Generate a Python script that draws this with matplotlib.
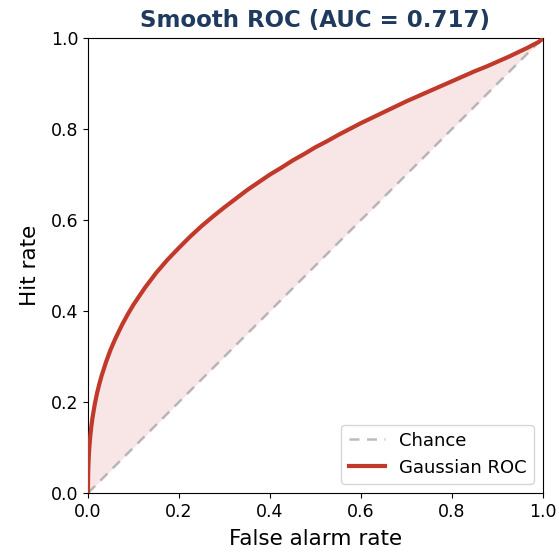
import matplotlib
matplotlib.use("Agg")
import matplotlib.pyplot as plt
import numpy as np

# Values
false_alarm = [0.0, 0.00001, 0.0001, 0.0005, 0.001, 0.002, 0.003, 0.005, 0.0075, 0.01, 0.015,
               0.02, 0.025, 0.03, 0.04, 0.05, 0.06, 0.075, 0.0875, 0.1, 0.125, 0.15, 0.175,
               0.2, 0.225, 0.25, 0.275, 0.3, 0.325, 0.35, 0.375, 0.4, 0.425, 0.45, 0.475,
               0.5, 0.525, 0.55, 0.575, 0.6, 0.625, 0.65, 0.675, 0.7, 0.725, 0.75, 0.775,
               0.8, 0.825, 0.85, 0.875, 0.9, 0.925, 0.95, 0.965, 0.98, 0.99, 0.995, 0.999, 1.0]
hit_rate = [0.0, 0.009, 0.024, 0.048, 0.064, 0.086, 0.101, 0.125, 0.148, 0.166, 0.196,
            0.220, 0.240, 0.258, 0.289, 0.316, 0.339, 0.370, 0.393, 0.414, 0.451, 0.484, 0.513,
            0.539, 0.564, 0.587, 0.608, 0.628, 0.647, 0.666, 0.683, 0.700, 0.715, 0.731, 0.745,
            0.760, 0.773, 0.787, 0.800, 0.813, 0.825, 0.837, 0.849, 0.861, 0.872, 0.883, 0.894,
            0.905, 0.916, 0.927, 0.937, 0.948, 0.959, 0.971, 0.978, 0.986, 0.991, 0.995, 0.998, 1.0]
chance = [0.0, 1.0]
auc_label = "0.717"

fig = plt.figure(figsize=(5.59, 5.52), dpi=100)
ax = fig.add_axes([88/559, 1-493/552, 455/559, 455/552])

ax.plot(chance, chance, linestyle=(0, (4, 3)), color="#999999", alpha=0.65, lw=1.8, label="Chance", zorder=2)
fa = np.array(false_alarm)
hr = np.array(hit_rate)
ax.fill_between(fa, fa, hr, color="#c0392b", alpha=0.12, lw=0, zorder=1)
ax.plot(fa, hr, color="#c0392b", lw=3, label="Gaussian ROC", zorder=3, solid_joinstyle="round")

ax.set_xlim(0, 1)
ax.set_ylim(0, 1)
ax.set_xticks(np.arange(0, 1.01, 0.2))
ax.set_yticks(np.arange(0, 1.01, 0.2))
ax.tick_params(labelsize=12.5)
ax.set_xlabel("False alarm rate", fontsize=15.5, labelpad=6)
ax.set_ylabel("Hit rate", fontsize=15.5, labelpad=8)
ax.set_title(f"Smooth ROC (AUC = {auc_label})", fontsize=16.5, fontweight="bold", color="#1f3a5f", pad=8)
ax.legend(loc="lower right", fontsize=13)

fig.savefig("out.png", dpi=100)
